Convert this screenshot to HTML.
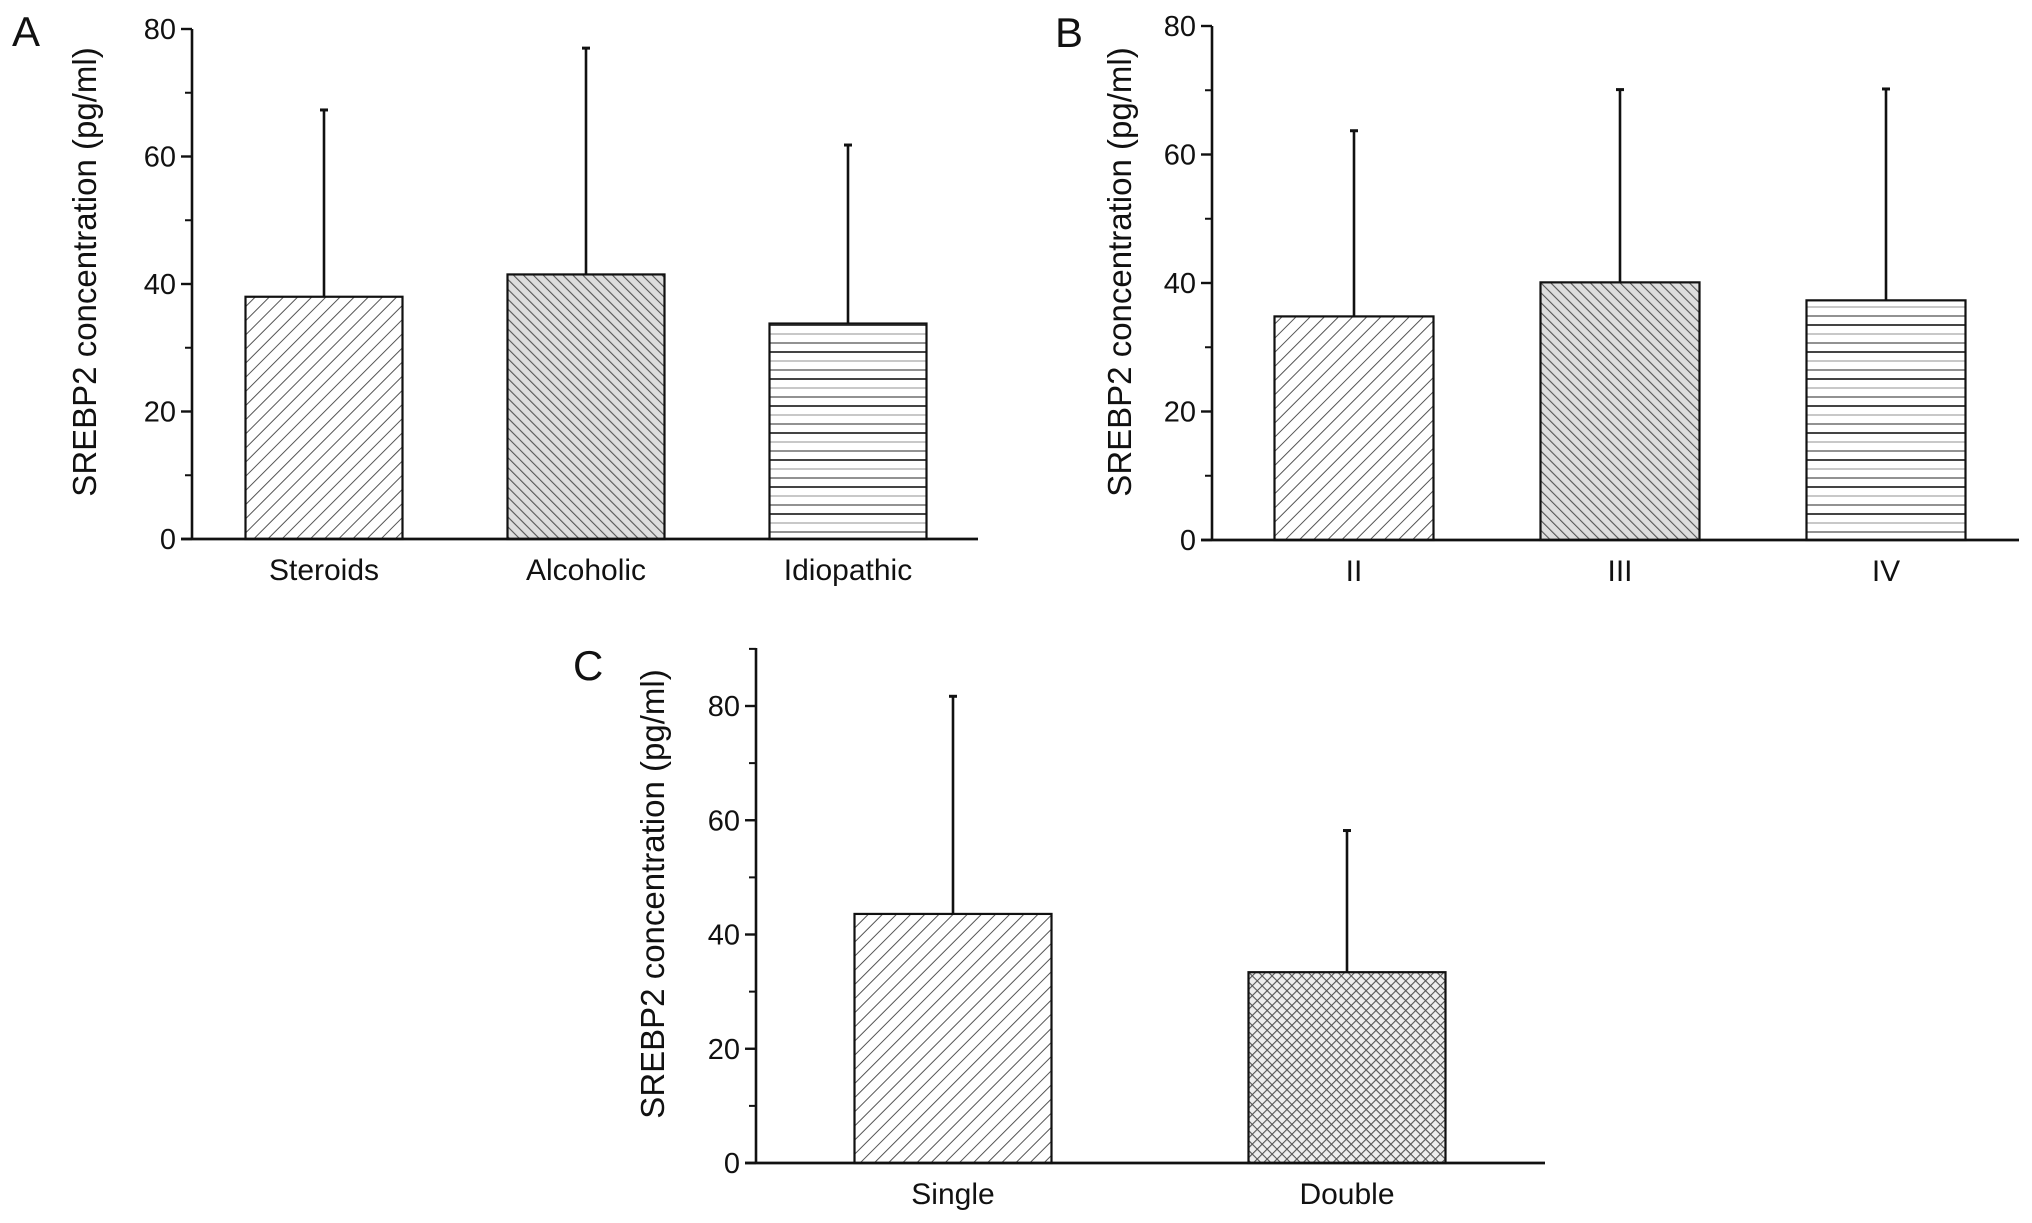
<!DOCTYPE html>
<html><head><meta charset="utf-8">
<style>html,body{margin:0;padding:0;background:#fff}svg{display:block}text{font-family:"Liberation Sans",Arial,sans-serif;fill:#111}</style>
</head><body>
<svg id="fig" width="2032" height="1223" viewBox="0 0 2032 1223" xmlns="http://www.w3.org/2000/svg">
<defs>
<pattern id="pFwd" patternUnits="userSpaceOnUse" width="10" height="10" patternTransform="rotate(45)"><rect width="10" height="10" fill="#fff"/><line x1="0" y1="0" x2="0" y2="10" stroke="#555" stroke-width="2"/></pattern>
<pattern id="pBack" patternUnits="userSpaceOnUse" width="7" height="7" patternTransform="rotate(-45)"><rect width="7" height="7" fill="#ddd"/><line x1="0" y1="0" x2="0" y2="7" stroke="#555" stroke-width="2.2"/></pattern>
<pattern id="pHoriz" patternUnits="userSpaceOnUse" width="10" height="27"><rect width="10" height="27" fill="#fff"/><line x1="0" y1="1" x2="10" y2="1" stroke="#444" stroke-width="2"/><line x1="0" y1="10" x2="10" y2="10" stroke="#bbb" stroke-width="1.6"/><line x1="0" y1="19" x2="10" y2="19" stroke="#777" stroke-width="1.6"/></pattern>
<pattern id="pCross" patternUnits="userSpaceOnUse" width="7" height="7" patternTransform="rotate(45)"><rect width="7" height="7" fill="#eee"/><line x1="0" y1="0" x2="0" y2="7" stroke="#555" stroke-width="2.2"/><line x1="0" y1="0" x2="7" y2="0" stroke="#555" stroke-width="2.2"/></pattern>
</defs>
<g id="root"></g>
</svg>
<script>
const aCategories = ["Steroids", "Alcoholic", "Idiopathic"];
const aMeans = [38.0, 41.5, 33.8];
const aErrors = [67.3, 77.0, 61.8];
const bCategories = ["II", "III", "IV"];
const bMeans = [34.8, 40.1, 37.3];
const bErrors = [63.7, 70.1, 70.2];
const cCategories = ["Single", "Double"];
const cMeans = [43.6, 33.4];
const cErrors = [81.7, 58.2];
const abTicks = [0, 20, 40, 60, 80];
const cTicks = [0, 20, 40, 60, 80];

const NS = "http://www.w3.org/2000/svg";
const root = document.getElementById("root");
function mk(tag, attrs, parent, txt) {
  const e = document.createElementNS(NS, tag);
  for (const k in attrs) e.setAttribute(k, attrs[k]);
  if (txt !== undefined) e.textContent = txt;
  (parent || root).appendChild(e);
  return e;
}

function panel(cfg) {
  const g = mk("g", {});
  
  
  const y = v => cfg.y0 - v * (cfg.y0 - cfg.yTop) / cfg.vTop;
  const xc = i => cfg.ax + cfg.firstOff + i * cfg.spacing;
  cfg.cats.forEach((c, i) => {
    const cx = xc(i);
    const top = y(cfg.means[i]);
    const bar = mk("rect", {x: cx - cfg.bw / 2, y: top, width: cfg.bw, height: cfg.y0 - top, fill: "url(#" + cfg.pats[i] + ")", stroke: "#111", "stroke-width": 2.2}, g);
    
    
    const ey = y(cfg.errs[i]);
    const err = mk("g", {}, g);
    
    
    mk("line", {x1: cx, y1: top, x2: cx, y2: ey, stroke: "#111", "stroke-width": 2.6}, err);
    mk("line", {x1: cx - 4, y1: ey, x2: cx + 4, y2: ey, stroke: "#111", "stroke-width": 3}, err);
    const lb = mk("text", {x: cx, y: cfg.y0 + 41, "text-anchor": "middle", "font-size": 30}, g, c);
    
    
  });
  const ya = mk("g", {}, g);
  
  
  mk("line", {x1: cfg.ax, y1: cfg.axTop, x2: cfg.ax, y2: cfg.y0 + 1, stroke: "#111", "stroke-width": 2.6}, ya);
  cfg.ticks.forEach(t => {
    mk("line", {x1: cfg.ax - 11, y1: y(t), x2: cfg.ax, y2: y(t), stroke: "#111", "stroke-width": 2.4}, ya);
    const tl = mk("text", {x: cfg.ax - 16, y: y(t) + 10, "text-anchor": "end", "font-size": 29}, ya, String(t));
    
    
    if (t + 10 <= cfg.minorMax) mk("line", {x1: cfg.ax - 7, y1: y(t + 10), x2: cfg.ax, y2: y(t + 10), stroke: "#111", "stroke-width": 2}, ya);
  });
  const xa = mk("line", {x1: cfg.ax - 11, y1: cfg.y0, x2: cfg.xEnd, y2: cfg.y0, stroke: "#111", "stroke-width": 2.8}, g);
  
  
  const tt = mk("text", {x: 0, y: 0, transform: "translate(" + cfg.titleX + "," + cfg.titleY + ") rotate(-90)", "text-anchor": "middle", "font-size": 33}, g, "SREBP2 concentration (pg/ml)");
  
  
  const L = mk("text", {x: cfg.lx, y: cfg.ly, "font-size": 42}, g, cfg.letter);
  
  
}

panel({letter: "A", cats: aCategories, means: aMeans, errs: aErrors, ticks: abTicks, minorMax: 70,
  ax: 192, y0: 539, yTop: 29, vTop: 80, axTop: 29, xEnd: 978, firstOff: 132, spacing: 262, bw: 157,
  pats: ["pFwd", "pBack", "pHoriz"], titleX: 96, titleY: 272, lx: 12, ly: 46});
panel({letter: "B", cats: bCategories, means: bMeans, errs: bErrors, ticks: abTicks, minorMax: 70,
  ax: 1212, y0: 540, yTop: 26, vTop: 80, axTop: 26, xEnd: 2019, firstOff: 142, spacing: 266, bw: 159,
  pats: ["pFwd", "pBack", "pHoriz"], titleX: 1131, titleY: 272, lx: 1055, ly: 47});
panel({letter: "C", cats: cCategories, means: cMeans, errs: cErrors, ticks: cTicks, minorMax: 90,
  ax: 756, y0: 1163, yTop: 706, vTop: 80, axTop: 648, xEnd: 1545, firstOff: 197, spacing: 394, bw: 197,
  pats: ["pFwd", "pCross"], titleX: 664, titleY: 894, lx: 573, ly: 680});
</script>
</body></html>
